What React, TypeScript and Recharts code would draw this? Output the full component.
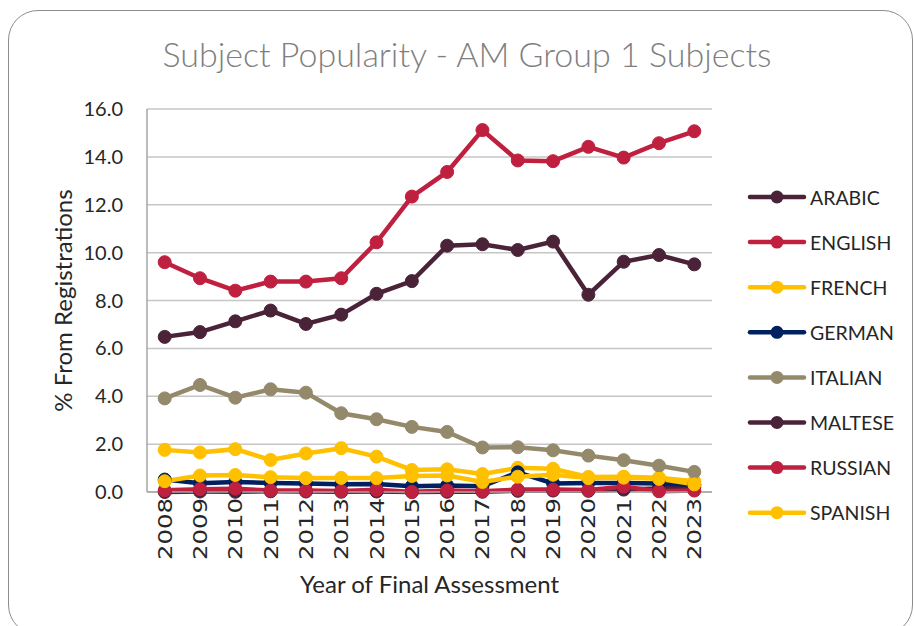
import React from 'react';
import { LineChart, Line, XAxis, YAxis, CartesianGrid, Legend } from 'recharts';

const years = ['2008', '2009', '2010', '2011', '2012', '2013', '2014', '2015', '2016', '2017', '2018', '2019', '2020', '2021', '2022', '2023'];

const arabic = [0.0, 0.02, 0.01, 0.03, 0.02, 0.01, 0.02, 0.0, 0.01, 0.01, 0.05, 0.06, 0.05, 0.1, 0.15, 0.2];
const english = [9.6, 8.93, 8.41, 8.79, 8.79, 8.93, 10.43, 12.34, 13.37, 15.12, 13.85, 13.82, 14.42, 13.97, 14.57, 15.07];
const french = [1.76, 1.65, 1.79, 1.34, 1.61, 1.83, 1.48, 0.92, 0.95, 0.75, 1.01, 0.97, 0.63, 0.64, 0.6, 0.45];
const german = [0.52, 0.37, 0.42, 0.38, 0.35, 0.32, 0.33, 0.24, 0.27, 0.24, 0.82, 0.36, 0.38, 0.38, 0.36, 0.3];
const italian = [3.91, 4.47, 3.94, 4.29, 4.15, 3.29, 3.04, 2.72, 2.51, 1.86, 1.87, 1.74, 1.52, 1.33, 1.1, 0.84];
const maltese = [6.48, 6.68, 7.13, 7.58, 7.02, 7.41, 8.28, 8.81, 10.29, 10.35, 10.11, 10.46, 8.24, 9.62, 9.9, 9.51];
const russian = [0.07, 0.12, 0.14, 0.06, 0.06, 0.04, 0.09, 0.0, 0.06, 0.03, 0.1, 0.1, 0.08, 0.22, 0.03, 0.06];
const spanish = [0.45, 0.69, 0.71, 0.62, 0.58, 0.59, 0.58, 0.67, 0.69, 0.42, 0.64, 0.72, 0.58, 0.6, 0.55, 0.32];

const yTicks = [0, 2, 4, 6, 8, 10, 12, 14, 16];

const series = [
    { key: 'ARABIC', values: arabic, color: '#4b2338' },
    { key: 'ENGLISH', values: english, color: '#c0203f' },
    { key: 'FRENCH', values: french, color: '#ffc000' },
    { key: 'GERMAN', values: german, color: '#002060' },
    { key: 'ITALIAN', values: italian, color: '#948a6b' },
    { key: 'MALTESE', values: maltese, color: '#4b2338' },
    { key: 'RUSSIAN', values: russian, color: '#c0203f' },
    { key: 'SPANISH', values: spanish, color: '#ffc000' },
];

const data = years.map((year, i) => {
    const row: Record<string, string | number> = { year };
    series.forEach((s) => {
        row[s.key] = s.values[i];
    });
    return row;
});

const FONT = 'Lato, "Open Sans", sans-serif';
const TEXT = '#262626';
// legend box width; recharts adds it to the right offset
const LEGEND_W = 174;

const XTick = ({ x, y, payload }: any) => (
    <text
        transform={`translate(${x + 7},${y}) rotate(-90) scale(1.22,1)`}
        textAnchor="end"
        fontSize={20}
        fontFamily='"DejaVu Sans", sans-serif'
        fill={TEXT}
    >
        {payload.value}
    </text>
);

const YTitle = ({ viewBox }: any) => (
    <text
        transform={`translate(62,${viewBox.y + viewBox.height / 2}) rotate(-90)`}
        textAnchor="middle"
        dominantBaseline="central"
        fontSize={24}
        fontFamily={FONT}
        fill={TEXT}
    >
        % From Registrations
    </text>
);

const XTitle = ({ viewBox }: any) => (
    <text
        x={viewBox.x + viewBox.width / 2}
        y={583}
        textAnchor="middle"
        dominantBaseline="central"
        fontSize={24}
        fontFamily={FONT}
        fill={TEXT}
    >
        Year of Final Assessment
    </text>
);

const renderLegend = ({ payload }: any) => (
    <svg width={LEGEND_W} height={370}>
        {(payload || []).map((entry: any, i: number) => {
            const cy = 22 + i * 45.1;
            return (
                <g key={entry.value}>
                    <line x1={10} x2={64} y1={cy} y2={cy} stroke={entry.color} strokeWidth={4.5} strokeLinecap="round" />
                    <circle cx={37} cy={cy} r={6.5} fill={entry.color} />
                    <text x={70} y={cy} dominantBaseline="central" fontSize={19.5} fontFamily={FONT} fill={TEXT}>
                        {entry.value}
                    </text>
                </g>
            );
        })}
    </svg>
);

export default function App() {
    return (
        <div style={{ position: 'fixed', left: 0, top: 0, width: 914, height: 626, overflow: 'hidden', background: '#fff' }}>
            <div
                style={{
                    position: 'absolute',
                    left: 8,
                    top: 10,
                    width: 905,
                    height: 625,
                    border: '1px solid #8c8c8c',
                    borderRadius: 30,
                    boxSizing: 'border-box',
                }}
            />
            <div
                style={{
                    position: 'absolute',
                    left: 0,
                    top: 33,
                    width: 934,
                    textAlign: 'center',
                    fontFamily: FONT,
                    fontSize: 34,
                    fontWeight: 300,
                    color: '#7f7f7f',
                    lineHeight: '42px',
                }}
            >
                Subject Popularity - AM Group 1 Subjects
            </div>
            <div style={{ position: 'absolute', left: 0, top: 0 }}>
                <LineChart width={914} height={626} data={data} margin={{ top: 109, right: 202 - LEGEND_W, left: 67, bottom: 54 }}>
                    <CartesianGrid vertical={false} stroke="#c6c6c6" strokeWidth={1.5} />
                    <XAxis
                        dataKey="year"
                        padding={{ left: 17.7, right: 17.7 }}
                        height={80}
                        tickLine={false}
                        tickSize={0}
                        tickMargin={6}
                        interval={0}
                        stroke="#a6a6a6"
                        strokeWidth={1.5}
                        tick={<XTick />}
                        label={{ content: <XTitle /> }}
                    />
                    <YAxis
                        width={80}
                        domain={[0, 16]}
                        ticks={yTicks}
                        interval={0}
                        tickLine={false}
                        tickSize={0}
                        tickMargin={24}
                        stroke="#a6a6a6"
                        strokeWidth={1.5}
                        tickFormatter={(v: number) => v.toFixed(1)}
                        tick={{ fill: TEXT, fontSize: 20, fontFamily: FONT }}
                        label={{ content: <YTitle /> }}
                    />
                    <Legend
                        layout="horizontal"
                        verticalAlign="middle"
                        align="right"
                        content={renderLegend}
                        wrapperStyle={{ left: 740, top: 175, width: LEGEND_W, height: 370 }}
                    />
                    {series.map((s) => (
                        <Line
                            key={s.key}
                            dataKey={s.key}
                            name={s.key}
                            stroke={s.color}
                            strokeWidth={4.5}
                            dot={{ r: 6.5, fill: s.color, stroke: s.color, strokeWidth: 1 }}
                            activeDot={false}
                            isAnimationActive={false}
                        />
                    ))}
                </LineChart>
            </div>
        </div>
    );
}
